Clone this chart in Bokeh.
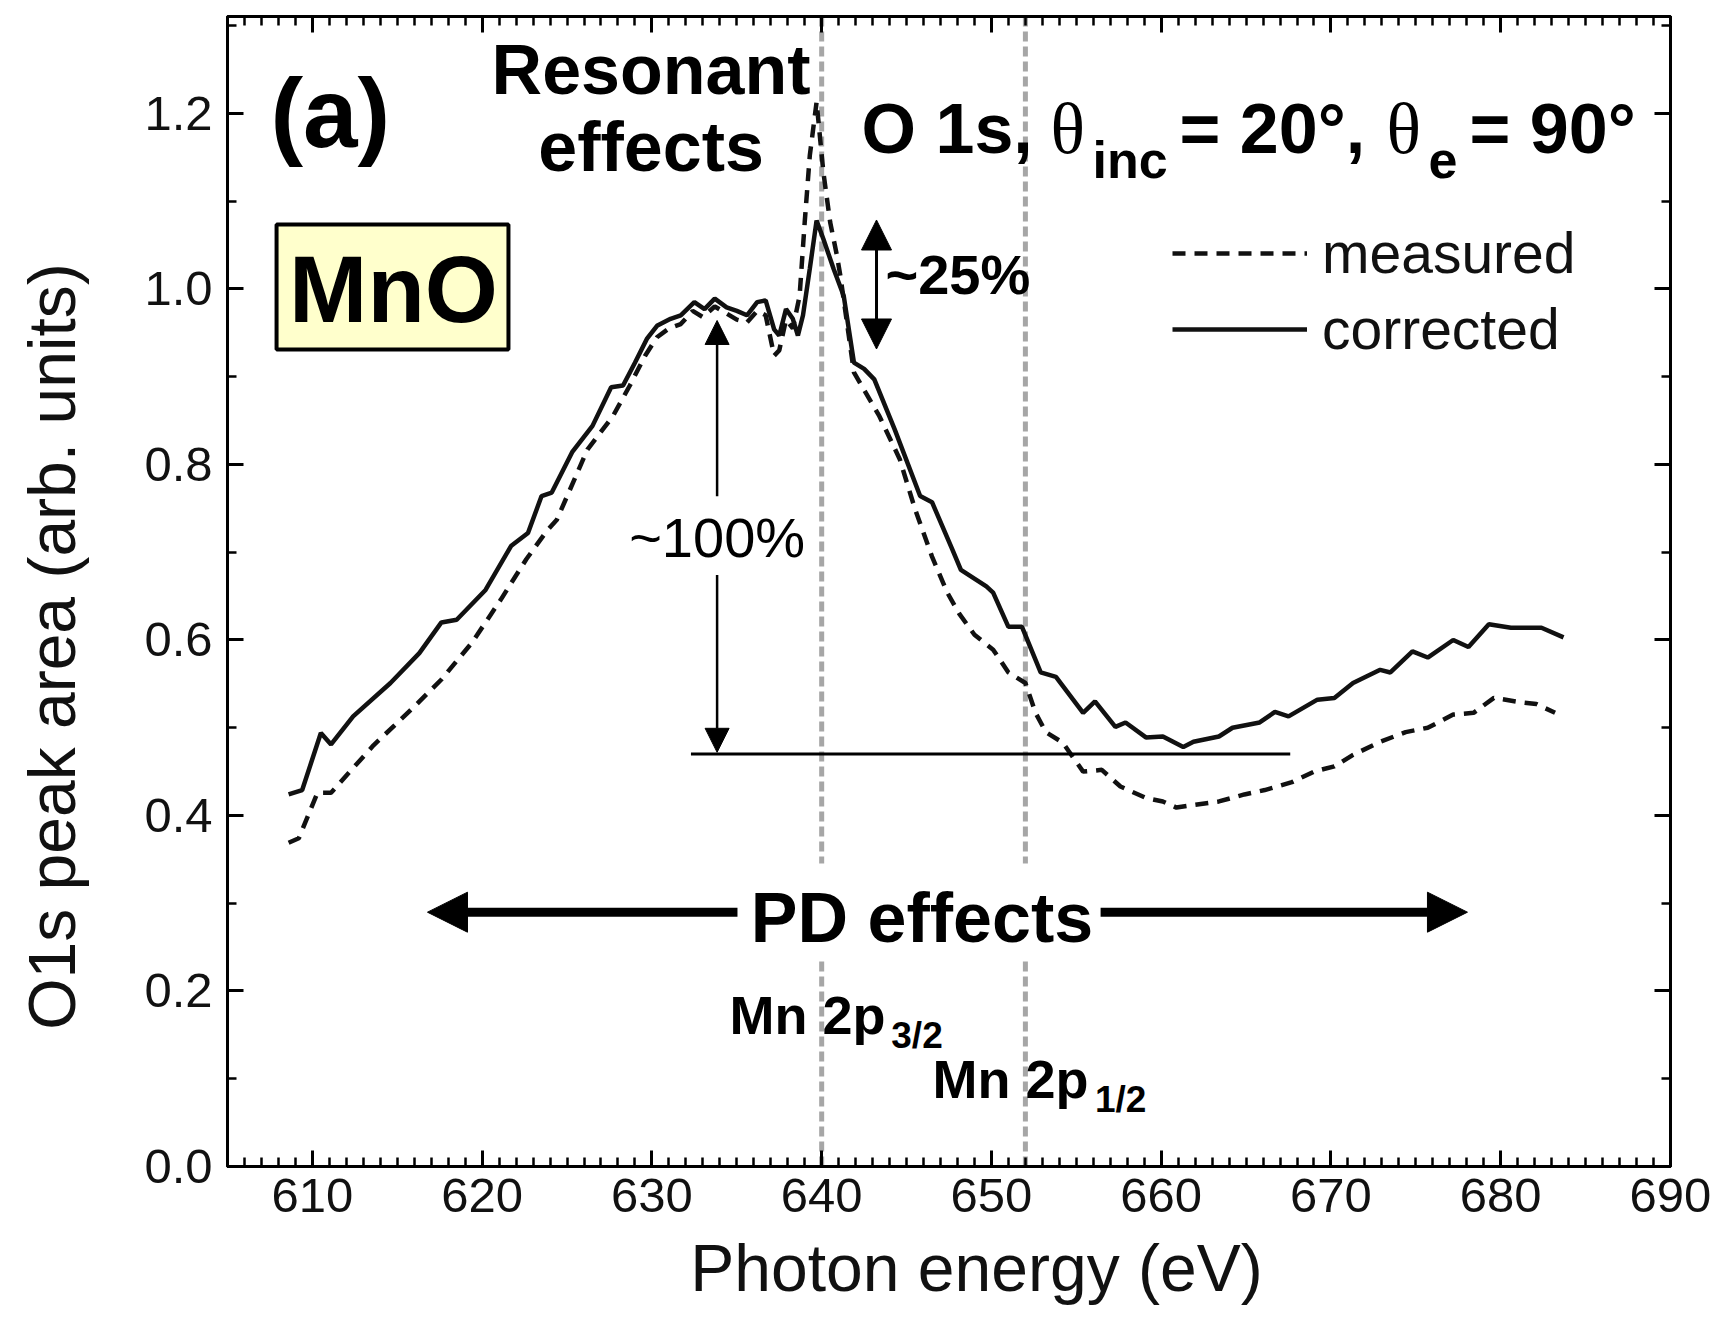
from bokeh.plotting import figure
from bokeh.models import (Range1d, LinearAxis, SingleIntervalTicker, PrintfTickFormatter,
                          Span, Arrow, NormalHead, Legend, LegendItem)
from bokeh.core.properties import value
from bokeh.embed import file_html
from bokeh.resources import INLINE

# ---------------- data ----------------
energy_corrected = [608.6, 609.4, 610.5, 611.1, 612.4, 614.6, 616.3, 617.6, 618.5, 620.2,
                    621.7, 622.7, 623.5, 624.1, 625.3, 626.5, 627.6, 628.3, 629.0, 629.7,
                    630.3, 631.1, 631.7, 632.5, 633.1, 633.7, 634.4, 635.0, 635.6, 636.2,
                    636.7, 637.2, 637.5, 637.9, 638.3, 638.6, 638.9, 639.3, 639.7, 640.1,
                    640.7, 641.3, 641.9, 642.5, 643.1, 644.3, 645.8, 646.5, 647.7, 648.2,
                    649.7, 650.1, 651.0, 651.8, 652.9, 653.8, 655.4, 656.1, 657.3, 657.9,
                    659.1, 660.1, 661.3, 661.9, 663.4, 664.2, 665.8, 666.7, 667.5, 669.2,
                    670.2, 671.3, 672.9, 673.5, 674.8, 675.7, 677.2, 678.1, 679.3, 680.6,
                    682.4, 683.7]
corrected = [0.424, 0.429, 0.494, 0.481, 0.513, 0.551, 0.585, 0.620, 0.623, 0.657,
             0.707, 0.722, 0.764, 0.768, 0.814, 0.844, 0.888, 0.890, 0.916, 0.943,
             0.958, 0.966, 0.970, 0.985, 0.977, 0.989, 0.979, 0.975, 0.970, 0.985,
             0.987, 0.954, 0.947, 0.977, 0.966, 0.947, 0.970, 1.023, 1.078, 1.057,
             1.023, 0.992, 0.916, 0.909, 0.897, 0.840, 0.764, 0.757, 0.703, 0.680,
             0.661, 0.654, 0.615, 0.615, 0.563, 0.558, 0.517, 0.530, 0.501, 0.506,
             0.489, 0.490, 0.478, 0.484, 0.490, 0.500, 0.506, 0.518, 0.513, 0.532,
             0.534, 0.551, 0.566, 0.563, 0.587, 0.580, 0.600, 0.592, 0.618, 0.614,
             0.614, 0.603]

energy_measured = [608.6, 609.2, 610.3, 611.1, 613.6, 616.0, 617.6, 619.4, 621.1, 622.6,
                   623.8, 624.4, 626.2, 627.7, 628.7, 629.6, 630.3, 631.0, 631.7, 632.4,
                   633.0, 633.7, 634.4, 635.0, 635.6, 636.2, 636.7, 637.2, 637.5, 637.9,
                   638.3, 638.7, 639.0, 639.3, 639.7, 640.1, 640.5, 640.9, 641.1, 641.9,
                   643.4, 644.6, 645.5, 646.5, 647.4, 648.1, 649.0, 650.1, 651.0, 652.0,
                   652.6, 653.2, 654.2, 655.4, 656.5, 657.6, 659.1, 660.1, 660.9, 661.9,
                   663.4, 664.9, 666.1, 667.7, 669.0, 670.2, 671.3, 672.9, 674.4, 675.7,
                   677.2, 678.4, 679.6, 681.2, 682.1, 683.2]
measured = [0.369, 0.374, 0.426, 0.426, 0.480, 0.524, 0.555, 0.597, 0.646, 0.692,
            0.724, 0.737, 0.817, 0.855, 0.890, 0.924, 0.945, 0.955, 0.960, 0.975,
            0.968, 0.980, 0.972, 0.965, 0.962, 0.975, 0.970, 0.924, 0.930, 0.965,
            0.955, 0.992, 1.076, 1.152, 1.213, 1.133, 1.076, 1.038, 1.015, 0.905,
            0.855, 0.806, 0.749, 0.695, 0.654, 0.630, 0.606, 0.589, 0.563, 0.551,
            0.517, 0.495, 0.483, 0.450, 0.452, 0.433, 0.420, 0.416, 0.409, 0.412,
            0.416, 0.424, 0.429, 0.438, 0.450, 0.456, 0.469, 0.484, 0.495, 0.500,
            0.515, 0.517, 0.534, 0.529, 0.527, 0.517]

edge_energies = [640.0, 652.0]          # Mn 2p3/2, Mn 2p1/2
baseline_level = 0.47
baseline_span = [632.3, 667.6]

SANS = "Liberation Sans"
NB = "\u00a0"
Y_MAX = 1.3105
PX_PER_UNIT = 1150 / Y_MAX

p = figure(width=1717, height=1328, output_backend="svg", toolbar_location=None,
           x_range=Range1d(605, 690), y_range=Range1d(0, Y_MAX),
           min_border_left=227, min_border_right=47, min_border_top=16, min_border_bottom=162)
p.background_fill_color = "white"
p.border_fill_color = "white"
p.xgrid.visible = False
p.ygrid.visible = False
p.outline_line_color = "black"
p.outline_line_width = 3

xt = SingleIntervalTicker(interval=10, num_minor_ticks=10)
yt = SingleIntervalTicker(interval=0.2, num_minor_ticks=2)
xt_top = SingleIntervalTicker(interval=10, num_minor_ticks=10)
yt_right = SingleIntervalTicker(interval=0.2, num_minor_ticks=2)


def style_axis(ax):
    ax.axis_line_width = 3
    ax.axis_line_color = "black"
    ax.major_tick_in = 16
    ax.major_tick_out = 0
    ax.minor_tick_in = 9
    ax.minor_tick_out = 0
    ax.major_tick_line_width = 3
    ax.minor_tick_line_width = 2.5
    ax.major_tick_line_color = "black"
    ax.minor_tick_line_color = "black"
    ax.major_label_text_font = SANS
    ax.major_label_text_font_size = "49px"
    ax.major_label_text_color = "#111111"
    ax.axis_label_text_font = SANS
    ax.axis_label_text_font_size = "66px"
    ax.axis_label_text_font_style = "normal"
    ax.axis_label_text_color = "#111111"


xax = p.xaxis[0]
yax = p.yaxis[0]
xax.ticker = xt
yax.ticker = yt
yax.formatter = PrintfTickFormatter(format="%.1f")
style_axis(xax)
style_axis(yax)
xax.major_label_standoff = 12
yax.major_label_standoff = 15
xax.axis_label = NB * 3 + "Photon energy (eV)"
xax.axis_label_standoff = 16
yax.axis_label = "O1s peak area (arb. units)" + NB * 6
yax.axis_label_standoff = 52

top_ax = LinearAxis(ticker=xt_top)
style_axis(top_ax)
top_ax.major_label_text_alpha = 0
top_ax.major_label_text_font_size = "2px"
top_ax.major_label_standoff = 0
p.add_layout(top_ax, "above")
right_ax = LinearAxis(ticker=yt_right)
style_axis(right_ax)
right_ax.major_label_text_alpha = 0
right_ax.major_label_text_font_size = "2px"
right_ax.major_label_standoff = 0
p.add_layout(right_ax, "right")

# reference edges
for e in edge_energies:
    p.add_layout(Span(location=e, dimension="height", line_color="#a6a6a6",
                      line_width=5, line_dash="10 5", level="underlay"))

r_meas = p.line(energy_measured, measured, line_color="#111111", line_width=4.5, line_dash="13 9")
r_corr = p.line(energy_corrected, corrected, line_color="#111111", line_width=4.5)

p.segment(x0=[baseline_span[0]], y0=[baseline_level], x1=[baseline_span[1]], y1=[baseline_level],
          line_color="black", line_width=3)

legend = Legend(items=[LegendItem(label="measured", renderers=[r_meas]),
                       LegendItem(label="corrected", renderers=[r_corr])],
                location=(945, 804), glyph_width=135, glyph_height=60, label_height=60,
                label_standoff=15, spacing=10, padding=0, margin=0,
                border_line_color=None, background_fill_alpha=0,
                label_text_font=SANS, label_text_font_size="57px", label_text_color="#111111")
p.add_layout(legend)


def txt(x, y_base, text, size_px, bold=True, align="left", font=SANS):
    # place by baseline: shift to the vertical middle of the text box
    y_mid = y_base + 0.3465 * size_px / PX_PER_UNIT
    p.text(x=[x], y=[y_mid], text=[text], text_font=value(font),
           text_font_size=value("%dpx" % size_px),
           text_font_style="bold" if bold else "normal", text_align=align,
           text_baseline="middle", text_color="black")


mno_box = dict(left=607.89, right=621.55, bottom=0.9311, top=1.0735)
p.quad(left=[mno_box["left"]], right=[mno_box["right"]], bottom=[mno_box["bottom"]],
       top=[mno_box["top"]], fill_color="#FFFFCC", line_color="black", line_width=4)
pd_box = dict(left=635.04, right=656.43, bottom=0.237, top=0.3453)
p.quad(left=[pd_box["left"]], right=[pd_box["right"]], bottom=[pd_box["bottom"]],
       top=[pd_box["top"]], fill_color="white", line_color=None)

# panel label and annotations
txt(607.53, 1.1613, "(a)", 98)
txt(629.95, 1.2217, "Resonant", 70, align="center")
txt(629.95, 1.1339, "effects", 70, align="center")
txt(614.78, 0.9618, "MnO", 94, align="center")

# title line: O 1s, θinc = 20°, θe = 90°
main_base, sub_base = 1.1544, 1.1259
txt(642.35, main_base, "O 1s,", 70)
txt(653.48, main_base, "θ", 72, bold=False, font="Liberation Serif")
txt(655.95, sub_base, "inc", 52)
txt(661.08, main_base, "= 20°,", 70)
txt(673.27, main_base, "θ", 72, bold=False, font="Liberation Serif")
txt(675.75, sub_base, "e", 52)
txt(678.16, main_base, "= 90°", 70)

txt(643.76, 0.9949, "~25%", 56)
txt(633.84, 0.695, "~100%", 56, bold=False, align="center")
txt(645.91, 0.2556, "PD effects", 70, align="center")

# Mn 2p edges
txt(634.57, 0.1516, "Mn 2p", 54)
txt(644.10, 0.1345, "3/2", 37)
txt(646.53, 0.0786, "Mn 2p", 54)
txt(656.10, 0.0615, "1/2", 37)

# arrows
p.add_layout(Arrow(x_start=643.23, y_start=0.9316, x_end=643.23, y_end=1.0786, line_width=3,
                   start=NormalHead(size=30, fill_color="black", line_color="black"),
                   end=NormalHead(size=30, fill_color="black", line_color="black")))
p.add_layout(Arrow(x_start=633.84, y_start=0.7637, x_end=633.84, y_end=0.9641, line_width=2.5,
                   end=NormalHead(size=24, fill_color="black", line_color="black")))
p.add_layout(Arrow(x_start=633.84, y_start=0.674, x_end=633.84, y_end=0.472, line_width=2.5,
                   end=NormalHead(size=24, fill_color="black", line_color="black")))
p.add_layout(Arrow(x_start=635.04, y_start=0.2898, x_end=616.78, y_end=0.2898, line_width=9,
                   end=NormalHead(size=40, fill_color="black", line_color="black")))
p.add_layout(Arrow(x_start=656.43, y_start=0.2898, x_end=678.04, y_end=0.2898, line_width=9,
                   end=NormalHead(size=40, fill_color="black", line_color="black")))

open("out.html", "w").write(file_html(p, INLINE))
